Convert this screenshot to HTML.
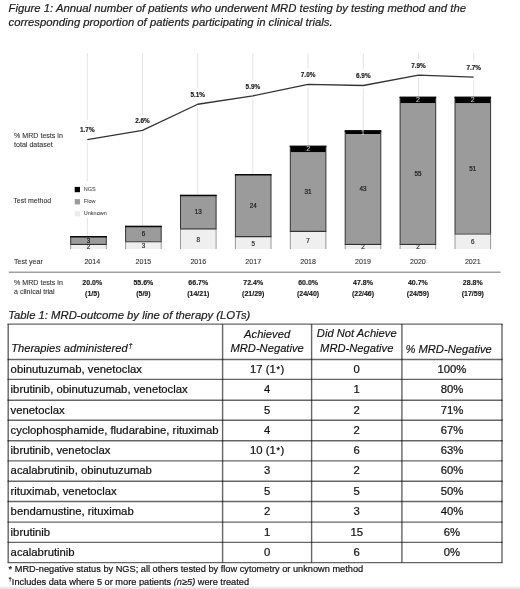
<!DOCTYPE html>
<html><head><meta charset="utf-8"><style>
html,body{margin:0;padding:0;background:#fff;width:520px;height:589px;overflow:hidden}
svg{display:block;will-change:transform}
text{font-family:'Liberation Sans', sans-serif}
</style></head><body>
<svg width="520" height="589" viewBox="0 0 520 589">
<text x="8.60" y="12.40" font-size="11.3" font-weight="normal" font-style="italic" text-anchor="start" fill="#1e1e1e" stroke="#1e1e1e" stroke-width="0.22">Figure 1: Annual number of patients who underwent MRD testing by testing method and the</text>
<text x="8.60" y="26.40" font-size="11.3" font-weight="normal" font-style="italic" text-anchor="start" fill="#1e1e1e" stroke="#1e1e1e" stroke-width="0.22">corresponding proportion of patients participating in clinical trials.</text>
<line x1="87.30" y1="53.00" x2="87.30" y2="249.00" stroke="#e4e4e4" stroke-width="1"/>
<line x1="142.50" y1="53.00" x2="142.50" y2="249.00" stroke="#e4e4e4" stroke-width="1"/>
<line x1="197.70" y1="53.00" x2="197.70" y2="249.00" stroke="#e4e4e4" stroke-width="1"/>
<line x1="252.90" y1="53.00" x2="252.90" y2="249.00" stroke="#e4e4e4" stroke-width="1"/>
<line x1="308.10" y1="53.00" x2="308.10" y2="249.00" stroke="#e4e4e4" stroke-width="1"/>
<line x1="363.30" y1="53.00" x2="363.30" y2="249.00" stroke="#e4e4e4" stroke-width="1"/>
<line x1="418.50" y1="53.00" x2="418.50" y2="249.00" stroke="#e4e4e4" stroke-width="1"/>
<line x1="473.70" y1="53.00" x2="473.70" y2="249.00" stroke="#e4e4e4" stroke-width="1"/>
<rect x="72.00" y="181.00" width="40.00" height="37.00" fill="#fff"/>
<rect x="84.30" y="120.19" width="6.00" height="22.50" fill="#fff"/>
<rect x="139.50" y="114.31" width="6.00" height="19.00" fill="#fff"/>
<rect x="194.70" y="88.26" width="6.00" height="19.00" fill="#fff"/>
<rect x="249.90" y="79.92" width="6.00" height="19.00" fill="#fff"/>
<rect x="305.10" y="68.46" width="6.00" height="19.00" fill="#fff"/>
<rect x="360.30" y="69.50" width="6.00" height="19.00" fill="#fff"/>
<rect x="415.50" y="59.08" width="6.00" height="19.00" fill="#fff"/>
<rect x="470.70" y="61.17" width="6.00" height="19.00" fill="#fff"/>
<polyline fill="none" stroke="#333" stroke-width="1.3" stroke-linejoin="round" points="87.30,139.69 142.50,130.31 197.70,104.26 252.90,95.92 308.10,84.46 363.30,85.50 418.50,75.08 473.70,77.17"/>
<text x="87.30" y="132.29" font-size="6.4" font-weight="bold" font-style="normal" text-anchor="middle" fill="#1a1a1a" stroke="#1a1a1a" stroke-width="0.15">1.7%</text>
<text x="142.50" y="122.91" font-size="6.4" font-weight="bold" font-style="normal" text-anchor="middle" fill="#1a1a1a" stroke="#1a1a1a" stroke-width="0.15">2.6%</text>
<text x="197.70" y="96.86" font-size="6.4" font-weight="bold" font-style="normal" text-anchor="middle" fill="#1a1a1a" stroke="#1a1a1a" stroke-width="0.15">5.1%</text>
<text x="252.90" y="88.52" font-size="6.4" font-weight="bold" font-style="normal" text-anchor="middle" fill="#1a1a1a" stroke="#1a1a1a" stroke-width="0.15">5.9%</text>
<text x="308.10" y="77.06" font-size="6.4" font-weight="bold" font-style="normal" text-anchor="middle" fill="#1a1a1a" stroke="#1a1a1a" stroke-width="0.15">7.0%</text>
<text x="363.30" y="78.10" font-size="6.4" font-weight="bold" font-style="normal" text-anchor="middle" fill="#1a1a1a" stroke="#1a1a1a" stroke-width="0.15">6.9%</text>
<text x="418.50" y="67.68" font-size="6.4" font-weight="bold" font-style="normal" text-anchor="middle" fill="#1a1a1a" stroke="#1a1a1a" stroke-width="0.15">7.9%</text>
<text x="473.70" y="69.77" font-size="6.4" font-weight="bold" font-style="normal" text-anchor="middle" fill="#1a1a1a" stroke="#1a1a1a" stroke-width="0.15">7.7%</text>
<rect x="70.70" y="243.84" width="35.60" height="5.16" fill="#efefef"/>
<rect x="70.70" y="236.10" width="35.60" height="7.74" fill="#9b9b9b"/>
<line x1="70.70" y1="236.10" x2="70.70" y2="243.84" stroke="#333" stroke-width="1"/>
<line x1="106.30" y1="236.10" x2="106.30" y2="243.84" stroke="#333" stroke-width="1"/>
<line x1="70.70" y1="243.84" x2="70.70" y2="249.00" stroke="#9a9a9a" stroke-width="1"/>
<line x1="106.30" y1="243.84" x2="106.30" y2="249.00" stroke="#9a9a9a" stroke-width="1"/>
<line x1="70.20" y1="236.70" x2="106.80" y2="236.70" stroke="#080808" stroke-width="1.5"/>
<line x1="70.20" y1="244.34" x2="106.80" y2="244.34" stroke="#333" stroke-width="1.2"/>
<text x="88.50" y="249.42" font-size="6.3" font-weight="normal" font-style="normal" text-anchor="middle" fill="#333" stroke="#333" stroke-width="0.22">2</text>
<text x="88.50" y="242.77" font-size="6.3" font-weight="normal" font-style="normal" text-anchor="middle" fill="#222" stroke="#222" stroke-width="0.22">3</text>
<rect x="125.60" y="241.26" width="35.60" height="7.74" fill="#efefef"/>
<rect x="125.60" y="225.78" width="35.60" height="15.48" fill="#9b9b9b"/>
<line x1="125.60" y1="225.78" x2="125.60" y2="241.26" stroke="#333" stroke-width="1"/>
<line x1="161.20" y1="225.78" x2="161.20" y2="241.26" stroke="#333" stroke-width="1"/>
<line x1="125.60" y1="241.26" x2="125.60" y2="249.00" stroke="#9a9a9a" stroke-width="1"/>
<line x1="161.20" y1="241.26" x2="161.20" y2="249.00" stroke="#9a9a9a" stroke-width="1"/>
<line x1="125.10" y1="226.38" x2="161.70" y2="226.38" stroke="#080808" stroke-width="1.5"/>
<line x1="125.10" y1="241.76" x2="161.70" y2="241.76" stroke="#333" stroke-width="1.2"/>
<text x="143.40" y="248.13" font-size="6.3" font-weight="normal" font-style="normal" text-anchor="middle" fill="#333" stroke="#333" stroke-width="0.22">3</text>
<text x="143.40" y="236.32" font-size="6.3" font-weight="normal" font-style="normal" text-anchor="middle" fill="#222" stroke="#222" stroke-width="0.22">6</text>
<rect x="180.50" y="228.36" width="35.60" height="20.64" fill="#efefef"/>
<rect x="180.50" y="194.82" width="35.60" height="33.54" fill="#9b9b9b"/>
<line x1="180.50" y1="194.82" x2="180.50" y2="228.36" stroke="#333" stroke-width="1"/>
<line x1="216.10" y1="194.82" x2="216.10" y2="228.36" stroke="#333" stroke-width="1"/>
<line x1="180.50" y1="228.36" x2="180.50" y2="249.00" stroke="#9a9a9a" stroke-width="1"/>
<line x1="216.10" y1="228.36" x2="216.10" y2="249.00" stroke="#9a9a9a" stroke-width="1"/>
<line x1="180.00" y1="195.42" x2="216.60" y2="195.42" stroke="#080808" stroke-width="1.5"/>
<line x1="180.00" y1="228.86" x2="216.60" y2="228.86" stroke="#333" stroke-width="1.2"/>
<text x="198.30" y="241.68" font-size="6.3" font-weight="normal" font-style="normal" text-anchor="middle" fill="#333" stroke="#333" stroke-width="0.22">8</text>
<text x="198.30" y="214.39" font-size="6.3" font-weight="normal" font-style="normal" text-anchor="middle" fill="#222" stroke="#222" stroke-width="0.22">13</text>
<rect x="235.40" y="236.10" width="35.60" height="12.90" fill="#efefef"/>
<rect x="235.40" y="174.18" width="35.60" height="61.92" fill="#9b9b9b"/>
<line x1="235.40" y1="174.18" x2="235.40" y2="236.10" stroke="#333" stroke-width="1"/>
<line x1="271.00" y1="174.18" x2="271.00" y2="236.10" stroke="#333" stroke-width="1"/>
<line x1="235.40" y1="236.10" x2="235.40" y2="249.00" stroke="#9a9a9a" stroke-width="1"/>
<line x1="271.00" y1="236.10" x2="271.00" y2="249.00" stroke="#9a9a9a" stroke-width="1"/>
<line x1="234.90" y1="174.78" x2="271.50" y2="174.78" stroke="#080808" stroke-width="1.5"/>
<line x1="234.90" y1="236.60" x2="271.50" y2="236.60" stroke="#333" stroke-width="1.2"/>
<text x="253.20" y="245.55" font-size="6.3" font-weight="normal" font-style="normal" text-anchor="middle" fill="#333" stroke="#333" stroke-width="0.22">5</text>
<text x="253.20" y="207.94" font-size="6.3" font-weight="normal" font-style="normal" text-anchor="middle" fill="#222" stroke="#222" stroke-width="0.22">24</text>
<rect x="290.30" y="230.94" width="35.60" height="18.06" fill="#efefef"/>
<rect x="290.30" y="150.96" width="35.60" height="79.98" fill="#9b9b9b"/>
<rect x="290.30" y="145.80" width="35.60" height="6.26" fill="#030303"/>
<line x1="290.30" y1="145.80" x2="290.30" y2="230.94" stroke="#333" stroke-width="1"/>
<line x1="325.90" y1="145.80" x2="325.90" y2="230.94" stroke="#333" stroke-width="1"/>
<line x1="290.30" y1="230.94" x2="290.30" y2="249.00" stroke="#9a9a9a" stroke-width="1"/>
<line x1="325.90" y1="230.94" x2="325.90" y2="249.00" stroke="#9a9a9a" stroke-width="1"/>
<line x1="289.80" y1="146.40" x2="326.40" y2="146.40" stroke="#080808" stroke-width="1.5"/>
<line x1="289.80" y1="231.44" x2="326.40" y2="231.44" stroke="#333" stroke-width="1.2"/>
<text x="308.10" y="242.97" font-size="6.3" font-weight="normal" font-style="normal" text-anchor="middle" fill="#333" stroke="#333" stroke-width="0.22">7</text>
<text x="308.10" y="193.75" font-size="6.3" font-weight="normal" font-style="normal" text-anchor="middle" fill="#222" stroke="#222" stroke-width="0.22">31</text>
<text x="308.10" y="151.28" font-size="7.0" font-weight="normal" font-style="normal" text-anchor="middle" fill="#c8c8c8" stroke="#c8c8c8" stroke-width="0.1">2</text>
<rect x="345.20" y="243.84" width="35.60" height="5.16" fill="#efefef"/>
<rect x="345.20" y="132.90" width="35.60" height="110.94" fill="#9b9b9b"/>
<rect x="345.20" y="130.32" width="35.60" height="3.68" fill="#030303"/>
<line x1="345.20" y1="130.32" x2="345.20" y2="243.84" stroke="#333" stroke-width="1"/>
<line x1="380.80" y1="130.32" x2="380.80" y2="243.84" stroke="#333" stroke-width="1"/>
<line x1="345.20" y1="243.84" x2="345.20" y2="249.00" stroke="#9a9a9a" stroke-width="1"/>
<line x1="380.80" y1="243.84" x2="380.80" y2="249.00" stroke="#9a9a9a" stroke-width="1"/>
<line x1="344.70" y1="130.92" x2="381.30" y2="130.92" stroke="#080808" stroke-width="1.5"/>
<line x1="344.70" y1="244.34" x2="381.30" y2="244.34" stroke="#333" stroke-width="1.2"/>
<text x="363.00" y="249.42" font-size="6.3" font-weight="normal" font-style="normal" text-anchor="middle" fill="#333" stroke="#333" stroke-width="0.22">2</text>
<text x="363.00" y="191.17" font-size="6.3" font-weight="normal" font-style="normal" text-anchor="middle" fill="#222" stroke="#222" stroke-width="0.22">43</text>
<text x="363.00" y="134.51" font-size="7.0" font-weight="normal" font-style="normal" text-anchor="middle" fill="#c8c8c8" stroke="#c8c8c8" stroke-width="0.1">1</text>
<rect x="400.10" y="243.84" width="35.60" height="5.16" fill="#efefef"/>
<rect x="400.10" y="101.94" width="35.60" height="141.90" fill="#9b9b9b"/>
<rect x="400.10" y="96.78" width="35.60" height="6.26" fill="#030303"/>
<line x1="400.10" y1="96.78" x2="400.10" y2="243.84" stroke="#333" stroke-width="1"/>
<line x1="435.70" y1="96.78" x2="435.70" y2="243.84" stroke="#333" stroke-width="1"/>
<line x1="400.10" y1="243.84" x2="400.10" y2="249.00" stroke="#9a9a9a" stroke-width="1"/>
<line x1="435.70" y1="243.84" x2="435.70" y2="249.00" stroke="#9a9a9a" stroke-width="1"/>
<line x1="399.60" y1="97.38" x2="436.20" y2="97.38" stroke="#080808" stroke-width="1.5"/>
<line x1="399.60" y1="244.34" x2="436.20" y2="244.34" stroke="#333" stroke-width="1.2"/>
<text x="417.90" y="249.42" font-size="6.3" font-weight="normal" font-style="normal" text-anchor="middle" fill="#333" stroke="#333" stroke-width="0.22">2</text>
<text x="417.90" y="175.69" font-size="6.3" font-weight="normal" font-style="normal" text-anchor="middle" fill="#222" stroke="#222" stroke-width="0.22">55</text>
<text x="417.90" y="102.26" font-size="7.0" font-weight="normal" font-style="normal" text-anchor="middle" fill="#c8c8c8" stroke="#c8c8c8" stroke-width="0.1">2</text>
<rect x="455.00" y="233.52" width="35.60" height="15.48" fill="#efefef"/>
<rect x="455.00" y="101.94" width="35.60" height="131.58" fill="#9b9b9b"/>
<rect x="455.00" y="96.78" width="35.60" height="6.26" fill="#030303"/>
<line x1="455.00" y1="96.78" x2="455.00" y2="233.52" stroke="#333" stroke-width="1"/>
<line x1="490.60" y1="96.78" x2="490.60" y2="233.52" stroke="#333" stroke-width="1"/>
<line x1="455.00" y1="233.52" x2="455.00" y2="249.00" stroke="#9a9a9a" stroke-width="1"/>
<line x1="490.60" y1="233.52" x2="490.60" y2="249.00" stroke="#9a9a9a" stroke-width="1"/>
<line x1="454.50" y1="97.38" x2="491.10" y2="97.38" stroke="#080808" stroke-width="1.5"/>
<line x1="454.50" y1="234.02" x2="491.10" y2="234.02" stroke="#333" stroke-width="1.2"/>
<text x="472.80" y="244.26" font-size="6.3" font-weight="normal" font-style="normal" text-anchor="middle" fill="#333" stroke="#333" stroke-width="0.22">6</text>
<text x="472.80" y="170.53" font-size="6.3" font-weight="normal" font-style="normal" text-anchor="middle" fill="#222" stroke="#222" stroke-width="0.22">51</text>
<text x="472.80" y="102.26" font-size="7.0" font-weight="normal" font-style="normal" text-anchor="middle" fill="#c8c8c8" stroke="#c8c8c8" stroke-width="0.1">2</text>
<rect x="74.70" y="186.90" width="5.30" height="5.30" fill="#000"/>
<rect x="74.70" y="199.10" width="5.30" height="5.30" fill="#9b9b9b"/>
<rect x="74.70" y="211.00" width="5.30" height="5.30" fill="#ececec"/>
<text x="83.80" y="191.40" font-size="5.5" font-weight="normal" font-style="normal" text-anchor="start" fill="#444" stroke="#444" stroke-width="0.05">NGS</text>
<text x="83.80" y="202.90" font-size="5.5" font-weight="normal" font-style="normal" text-anchor="start" fill="#444" stroke="#444" stroke-width="0.05">Flow</text>
<text x="83.80" y="214.90" font-size="5.5" font-weight="normal" font-style="normal" text-anchor="start" fill="#444" stroke="#444" stroke-width="0.05">Unknown</text>
<text x="14.00" y="137.70" font-size="7.1" font-weight="normal" font-style="normal" text-anchor="start" fill="#333" stroke="#333" stroke-width="0.1">% MRD tests in</text>
<text x="14.00" y="146.50" font-size="7.1" font-weight="normal" font-style="normal" text-anchor="start" fill="#333" stroke="#333" stroke-width="0.1">total dataset</text>
<text x="13.40" y="202.90" font-size="6.95" font-weight="normal" font-style="normal" text-anchor="start" fill="#333" stroke="#333" stroke-width="0.1">Test method</text>
<text x="14.00" y="264.10" font-size="7.1" font-weight="normal" font-style="normal" text-anchor="start" fill="#333" stroke="#333" stroke-width="0.1">Test year</text>
<text x="14.00" y="285.00" font-size="7.1" font-weight="normal" font-style="normal" text-anchor="start" fill="#333" stroke="#333" stroke-width="0.1">% MRD tests in</text>
<text x="14.00" y="294.30" font-size="7.1" font-weight="normal" font-style="normal" text-anchor="start" fill="#333" stroke="#333" stroke-width="0.1">a clinical trial</text>
<text x="92.30" y="264.40" font-size="7.1" font-weight="normal" font-style="normal" text-anchor="middle" fill="#333" stroke="#333" stroke-width="0.1">2014</text>
<text x="92.30" y="285.20" font-size="7.0" font-weight="bold" font-style="normal" text-anchor="middle" fill="#1a1a1a" stroke="#1a1a1a" stroke-width="0.15">20.0%</text>
<text x="92.30" y="295.60" font-size="7.0" font-weight="bold" font-style="normal" text-anchor="middle" fill="#1a1a1a" stroke="#1a1a1a" stroke-width="0.15">(1/5)</text>
<text x="143.40" y="264.40" font-size="7.1" font-weight="normal" font-style="normal" text-anchor="middle" fill="#333" stroke="#333" stroke-width="0.1">2015</text>
<text x="143.40" y="285.20" font-size="7.0" font-weight="bold" font-style="normal" text-anchor="middle" fill="#1a1a1a" stroke="#1a1a1a" stroke-width="0.15">55.6%</text>
<text x="143.40" y="295.60" font-size="7.0" font-weight="bold" font-style="normal" text-anchor="middle" fill="#1a1a1a" stroke="#1a1a1a" stroke-width="0.15">(5/9)</text>
<text x="198.30" y="264.40" font-size="7.1" font-weight="normal" font-style="normal" text-anchor="middle" fill="#333" stroke="#333" stroke-width="0.1">2016</text>
<text x="198.30" y="285.20" font-size="7.0" font-weight="bold" font-style="normal" text-anchor="middle" fill="#1a1a1a" stroke="#1a1a1a" stroke-width="0.15">66.7%</text>
<text x="198.30" y="295.60" font-size="7.0" font-weight="bold" font-style="normal" text-anchor="middle" fill="#1a1a1a" stroke="#1a1a1a" stroke-width="0.15">(14/21)</text>
<text x="253.20" y="264.40" font-size="7.1" font-weight="normal" font-style="normal" text-anchor="middle" fill="#333" stroke="#333" stroke-width="0.1">2017</text>
<text x="253.20" y="285.20" font-size="7.0" font-weight="bold" font-style="normal" text-anchor="middle" fill="#1a1a1a" stroke="#1a1a1a" stroke-width="0.15">72.4%</text>
<text x="253.20" y="295.60" font-size="7.0" font-weight="bold" font-style="normal" text-anchor="middle" fill="#1a1a1a" stroke="#1a1a1a" stroke-width="0.15">(21/29)</text>
<text x="308.10" y="264.40" font-size="7.1" font-weight="normal" font-style="normal" text-anchor="middle" fill="#333" stroke="#333" stroke-width="0.1">2018</text>
<text x="308.10" y="285.20" font-size="7.0" font-weight="bold" font-style="normal" text-anchor="middle" fill="#1a1a1a" stroke="#1a1a1a" stroke-width="0.15">60.0%</text>
<text x="308.10" y="295.60" font-size="7.0" font-weight="bold" font-style="normal" text-anchor="middle" fill="#1a1a1a" stroke="#1a1a1a" stroke-width="0.15">(24/40)</text>
<text x="363.00" y="264.40" font-size="7.1" font-weight="normal" font-style="normal" text-anchor="middle" fill="#333" stroke="#333" stroke-width="0.1">2019</text>
<text x="363.00" y="285.20" font-size="7.0" font-weight="bold" font-style="normal" text-anchor="middle" fill="#1a1a1a" stroke="#1a1a1a" stroke-width="0.15">47.8%</text>
<text x="363.00" y="295.60" font-size="7.0" font-weight="bold" font-style="normal" text-anchor="middle" fill="#1a1a1a" stroke="#1a1a1a" stroke-width="0.15">(22/46)</text>
<text x="417.90" y="264.40" font-size="7.1" font-weight="normal" font-style="normal" text-anchor="middle" fill="#333" stroke="#333" stroke-width="0.1">2020</text>
<text x="417.90" y="285.20" font-size="7.0" font-weight="bold" font-style="normal" text-anchor="middle" fill="#1a1a1a" stroke="#1a1a1a" stroke-width="0.15">40.7%</text>
<text x="417.90" y="295.60" font-size="7.0" font-weight="bold" font-style="normal" text-anchor="middle" fill="#1a1a1a" stroke="#1a1a1a" stroke-width="0.15">(24/59)</text>
<text x="472.80" y="264.40" font-size="7.1" font-weight="normal" font-style="normal" text-anchor="middle" fill="#333" stroke="#333" stroke-width="0.1">2021</text>
<text x="472.80" y="285.20" font-size="7.0" font-weight="bold" font-style="normal" text-anchor="middle" fill="#1a1a1a" stroke="#1a1a1a" stroke-width="0.15">28.8%</text>
<text x="472.80" y="295.60" font-size="7.0" font-weight="bold" font-style="normal" text-anchor="middle" fill="#1a1a1a" stroke="#1a1a1a" stroke-width="0.15">(17/59)</text>
<line x1="8.80" y1="272.20" x2="500.60" y2="272.20" stroke="#a0a0a0" stroke-width="1.6"/>
<text x="8.20" y="319.40" font-size="11.3" font-weight="normal" font-style="italic" text-anchor="start" fill="#1e1e1e" stroke="#1e1e1e" stroke-width="0.22">Table 1: MRD-outcome by line of therapy (LOTs)</text>
<line x1="8.20" y1="324.10" x2="8.20" y2="562.60" stroke="#000" stroke-width="1.4" stroke-opacity="0.6"/>
<line x1="222.60" y1="324.10" x2="222.60" y2="562.60" stroke="#000" stroke-width="1.4" stroke-opacity="0.6"/>
<line x1="311.60" y1="324.10" x2="311.60" y2="562.60" stroke="#000" stroke-width="1.4" stroke-opacity="0.6"/>
<line x1="401.90" y1="324.10" x2="401.90" y2="562.60" stroke="#000" stroke-width="1.4" stroke-opacity="0.6"/>
<line x1="502.00" y1="324.10" x2="502.00" y2="562.60" stroke="#000" stroke-width="1.4" stroke-opacity="0.6"/>
<line x1="7.50" y1="324.10" x2="502.70" y2="324.10" stroke="#000" stroke-width="1.4" stroke-opacity="0.6"/>
<line x1="7.50" y1="359.50" x2="502.70" y2="359.50" stroke="#000" stroke-width="1.4" stroke-opacity="0.6"/>
<line x1="7.50" y1="379.40" x2="502.70" y2="379.40" stroke="#000" stroke-width="1.4" stroke-opacity="0.6"/>
<line x1="7.50" y1="400.20" x2="502.70" y2="400.20" stroke="#000" stroke-width="1.4" stroke-opacity="0.6"/>
<line x1="7.50" y1="420.30" x2="502.70" y2="420.30" stroke="#000" stroke-width="1.4" stroke-opacity="0.6"/>
<line x1="7.50" y1="440.70" x2="502.70" y2="440.70" stroke="#000" stroke-width="1.4" stroke-opacity="0.6"/>
<line x1="7.50" y1="460.90" x2="502.70" y2="460.90" stroke="#000" stroke-width="1.4" stroke-opacity="0.6"/>
<line x1="7.50" y1="481.30" x2="502.70" y2="481.30" stroke="#000" stroke-width="1.4" stroke-opacity="0.6"/>
<line x1="7.50" y1="501.50" x2="502.70" y2="501.50" stroke="#000" stroke-width="1.4" stroke-opacity="0.6"/>
<line x1="7.50" y1="522.10" x2="502.70" y2="522.10" stroke="#000" stroke-width="1.4" stroke-opacity="0.6"/>
<line x1="7.50" y1="542.35" x2="502.70" y2="542.35" stroke="#000" stroke-width="1.4" stroke-opacity="0.6"/>
<line x1="7.50" y1="562.60" x2="502.70" y2="562.60" stroke="#000" stroke-width="1.4" stroke-opacity="0.6"/>
<text x="11.20" y="352.30" font-size="11.15" font-weight="normal" font-style="italic" text-anchor="start" fill="#111" stroke="#111" stroke-width="0.15">Therapies administered<tspan font-size="7" dx="0.8" dy="-4.6">†</tspan></text>
<text x="267.10" y="337.60" font-size="11.2" font-weight="normal" font-style="italic" text-anchor="middle" fill="#111" stroke="#111" stroke-width="0.15">Achieved</text>
<text x="267.10" y="352.40" font-size="11.2" font-weight="normal" font-style="italic" text-anchor="middle" fill="#111" stroke="#111" stroke-width="0.15">MRD-Negative</text>
<text x="356.75" y="337.40" font-size="11.2" font-weight="normal" font-style="italic" text-anchor="middle" fill="#111" stroke="#111" stroke-width="0.15">Did Not Achieve</text>
<text x="356.75" y="352.40" font-size="11.2" font-weight="normal" font-style="italic" text-anchor="middle" fill="#111" stroke="#111" stroke-width="0.15">MRD-Negative</text>
<text x="405.40" y="352.80" font-size="11.2" font-weight="normal" font-style="italic" text-anchor="start" fill="#111" stroke="#111" stroke-width="0.15">% MRD-Negative</text>
<text x="10.60" y="372.80" font-size="11.3" font-weight="normal" font-style="normal" text-anchor="start" fill="#111" stroke="#111" stroke-width="0.22">obinutuzumab, venetoclax</text>
<text x="267.10" y="372.80" font-size="11.3" font-weight="normal" font-style="normal" text-anchor="middle" fill="#111" stroke="#111" stroke-width="0.22">17 (1<tspan font-size="9" dx="0.7" dy="-1.0">*</tspan><tspan dx="0.6" dy="1.0">)</tspan></text>
<text x="356.75" y="372.80" font-size="11.3" font-weight="normal" font-style="normal" text-anchor="middle" fill="#111" stroke="#111" stroke-width="0.22">0</text>
<text x="451.95" y="372.80" font-size="11.3" font-weight="normal" font-style="normal" text-anchor="middle" fill="#111" stroke="#111" stroke-width="0.22">100%</text>
<text x="10.60" y="393.15" font-size="11.3" font-weight="normal" font-style="normal" text-anchor="start" fill="#111" stroke="#111" stroke-width="0.22">ibrutinib, obinutuzumab, venetoclax</text>
<text x="267.10" y="393.15" font-size="11.3" font-weight="normal" font-style="normal" text-anchor="middle" fill="#111" stroke="#111" stroke-width="0.22">4</text>
<text x="356.75" y="393.15" font-size="11.3" font-weight="normal" font-style="normal" text-anchor="middle" fill="#111" stroke="#111" stroke-width="0.22">1</text>
<text x="451.95" y="393.15" font-size="11.3" font-weight="normal" font-style="normal" text-anchor="middle" fill="#111" stroke="#111" stroke-width="0.22">80%</text>
<text x="10.60" y="413.60" font-size="11.3" font-weight="normal" font-style="normal" text-anchor="start" fill="#111" stroke="#111" stroke-width="0.22">venetoclax</text>
<text x="267.10" y="413.60" font-size="11.3" font-weight="normal" font-style="normal" text-anchor="middle" fill="#111" stroke="#111" stroke-width="0.22">5</text>
<text x="356.75" y="413.60" font-size="11.3" font-weight="normal" font-style="normal" text-anchor="middle" fill="#111" stroke="#111" stroke-width="0.22">2</text>
<text x="451.95" y="413.60" font-size="11.3" font-weight="normal" font-style="normal" text-anchor="middle" fill="#111" stroke="#111" stroke-width="0.22">71%</text>
<text x="10.60" y="433.85" font-size="11.3" font-weight="normal" font-style="normal" text-anchor="start" fill="#111" stroke="#111" stroke-width="0.22">cyclophosphamide, fludarabine, rituximab</text>
<text x="267.10" y="433.85" font-size="11.3" font-weight="normal" font-style="normal" text-anchor="middle" fill="#111" stroke="#111" stroke-width="0.22">4</text>
<text x="356.75" y="433.85" font-size="11.3" font-weight="normal" font-style="normal" text-anchor="middle" fill="#111" stroke="#111" stroke-width="0.22">2</text>
<text x="451.95" y="433.85" font-size="11.3" font-weight="normal" font-style="normal" text-anchor="middle" fill="#111" stroke="#111" stroke-width="0.22">67%</text>
<text x="10.60" y="454.15" font-size="11.3" font-weight="normal" font-style="normal" text-anchor="start" fill="#111" stroke="#111" stroke-width="0.22">ibrutinib, venetoclax</text>
<text x="267.10" y="454.15" font-size="11.3" font-weight="normal" font-style="normal" text-anchor="middle" fill="#111" stroke="#111" stroke-width="0.22">10 (1<tspan font-size="9" dx="0.7" dy="-1.0">*</tspan><tspan dx="0.6" dy="1.0">)</tspan></text>
<text x="356.75" y="454.15" font-size="11.3" font-weight="normal" font-style="normal" text-anchor="middle" fill="#111" stroke="#111" stroke-width="0.22">6</text>
<text x="451.95" y="454.15" font-size="11.3" font-weight="normal" font-style="normal" text-anchor="middle" fill="#111" stroke="#111" stroke-width="0.22">63%</text>
<text x="10.60" y="474.45" font-size="11.3" font-weight="normal" font-style="normal" text-anchor="start" fill="#111" stroke="#111" stroke-width="0.22">acalabrutinib, obinutuzumab</text>
<text x="267.10" y="474.45" font-size="11.3" font-weight="normal" font-style="normal" text-anchor="middle" fill="#111" stroke="#111" stroke-width="0.22">3</text>
<text x="356.75" y="474.45" font-size="11.3" font-weight="normal" font-style="normal" text-anchor="middle" fill="#111" stroke="#111" stroke-width="0.22">2</text>
<text x="451.95" y="474.45" font-size="11.3" font-weight="normal" font-style="normal" text-anchor="middle" fill="#111" stroke="#111" stroke-width="0.22">60%</text>
<text x="10.60" y="494.75" font-size="11.3" font-weight="normal" font-style="normal" text-anchor="start" fill="#111" stroke="#111" stroke-width="0.22">rituximab, venetoclax</text>
<text x="267.10" y="494.75" font-size="11.3" font-weight="normal" font-style="normal" text-anchor="middle" fill="#111" stroke="#111" stroke-width="0.22">5</text>
<text x="356.75" y="494.75" font-size="11.3" font-weight="normal" font-style="normal" text-anchor="middle" fill="#111" stroke="#111" stroke-width="0.22">5</text>
<text x="451.95" y="494.75" font-size="11.3" font-weight="normal" font-style="normal" text-anchor="middle" fill="#111" stroke="#111" stroke-width="0.22">50%</text>
<text x="10.60" y="515.15" font-size="11.3" font-weight="normal" font-style="normal" text-anchor="start" fill="#111" stroke="#111" stroke-width="0.22">bendamustine, rituximab</text>
<text x="267.10" y="515.15" font-size="11.3" font-weight="normal" font-style="normal" text-anchor="middle" fill="#111" stroke="#111" stroke-width="0.22">2</text>
<text x="356.75" y="515.15" font-size="11.3" font-weight="normal" font-style="normal" text-anchor="middle" fill="#111" stroke="#111" stroke-width="0.22">3</text>
<text x="451.95" y="515.15" font-size="11.3" font-weight="normal" font-style="normal" text-anchor="middle" fill="#111" stroke="#111" stroke-width="0.22">40%</text>
<text x="10.60" y="535.58" font-size="11.3" font-weight="normal" font-style="normal" text-anchor="start" fill="#111" stroke="#111" stroke-width="0.22">ibrutinib</text>
<text x="267.10" y="535.58" font-size="11.3" font-weight="normal" font-style="normal" text-anchor="middle" fill="#111" stroke="#111" stroke-width="0.22">1</text>
<text x="356.75" y="535.58" font-size="11.3" font-weight="normal" font-style="normal" text-anchor="middle" fill="#111" stroke="#111" stroke-width="0.22">15</text>
<text x="451.95" y="535.58" font-size="11.3" font-weight="normal" font-style="normal" text-anchor="middle" fill="#111" stroke="#111" stroke-width="0.22">6%</text>
<text x="10.60" y="555.83" font-size="11.3" font-weight="normal" font-style="normal" text-anchor="start" fill="#111" stroke="#111" stroke-width="0.22">acalabrutinib</text>
<text x="267.10" y="555.83" font-size="11.3" font-weight="normal" font-style="normal" text-anchor="middle" fill="#111" stroke="#111" stroke-width="0.22">0</text>
<text x="356.75" y="555.83" font-size="11.3" font-weight="normal" font-style="normal" text-anchor="middle" fill="#111" stroke="#111" stroke-width="0.22">6</text>
<text x="451.95" y="555.83" font-size="11.3" font-weight="normal" font-style="normal" text-anchor="middle" fill="#111" stroke="#111" stroke-width="0.22">0%</text>
<text x="8.60" y="571.60" font-size="9.23" font-weight="normal" font-style="normal" text-anchor="start" fill="#111" stroke="#111" stroke-width="0.2">* MRD-negative status by NGS; all others tested by flow cytometry or unknown method</text>
<text x="8.60" y="584.60" font-size="9.23" font-weight="normal" font-style="normal" text-anchor="start" fill="#111" stroke="#111" stroke-width="0.2"><tspan font-size="5.8" dy="-3.4">†</tspan><tspan dy="3.4">Includes data where 5 or more patients </tspan><tspan font-style="italic">(n≥5)</tspan> were treated</text>
<rect x="0.00" y="586.20" width="520.00" height="0.80" fill="#f4f4f4"/>
<rect x="0.00" y="587.00" width="520.00" height="1.00" fill="#ebebeb"/>
<rect x="0.00" y="588.00" width="520.00" height="1.00" fill="#e4e4e4"/>
</svg>
</body></html>
